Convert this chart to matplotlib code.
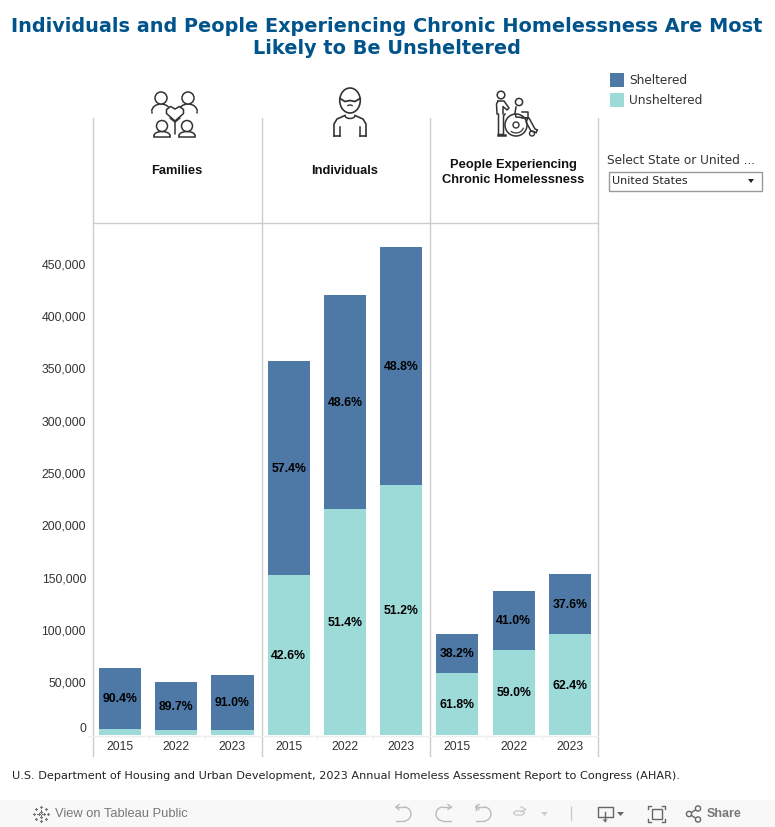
import matplotlib
matplotlib.use('Agg')
import matplotlib.pyplot as plt
from matplotlib.patches import Circle, Arc, Rectangle, Polygon, Ellipse, FancyBboxPatch
from matplotlib.transforms import ScaledTranslation

W, H = 775, 827

# values
years = ['2015', '2022', '2023', '2015', '2022', '2023', '2015', '2022', '2023']
sheltered = [58000, 45400, 52200, 204500, 205000, 227500, 37000, 56400, 57500]
unsheltered = [6000, 5200, 5200, 153000, 216000, 239000, 59500, 81300, 96500]
sheltered_labels = ['90.4%', '89.7%', '91.0%', '57.4%', '48.6%', '48.8%', '38.2%', '41.0%', '37.6%']
unsheltered_labels = ['', '', '', '42.6%', '51.4%', '51.2%', '61.8%', '59.0%', '62.4%']
yticks = [0, 50000, 100000, 150000, 200000, 250000, 300000, 350000, 400000, 450000]
groups = ['Families', 'Individuals', 'People Experiencing\nChronic Homelessness']

BLUE = '#4e79a7'
TEAL = '#9ddbd9'
LINE = '#cccccc'
ICON = '#333333'

plt.rcParams['font.family'] = ['Liberation Sans', 'DejaVu Sans']

fig = plt.figure(figsize=(W / 100, H / 100), dpi=100)

# main bars
ax = fig.add_axes([93 / W, 1 - 735 / H, 505 / W, 512 / H])
x = list(range(len(years)))
ax.bar(x, unsheltered, width=0.75, color=TEAL)
ax.bar(x, sheltered, width=0.75, bottom=unsheltered, color=BLUE)
# labels sit about a pixel under the exact middle of the segment
down = ax.transData + ScaledTranslation(0, -1 / 100, fig.dpi_scale_trans)
for i in x:
    ax.text(i, unsheltered[i] + sheltered[i] / 2, sheltered_labels[i], ha='center', va='center',
            fontsize=8.8, fontweight='bold', color='black', transform=down)
    if unsheltered_labels[i]:
        ax.text(i, unsheltered[i] / 2, unsheltered_labels[i], ha='center', va='center',
                fontsize=8.8, fontweight='bold', color='black', transform=down)
ax.set_xlim(-0.48, 8.5)
ax.set_ylim(0, 489400)
ax.set_xticks(x)
ax.set_xticklabels(years)
ax.set_yticks(yticks)
ax.set_yticklabels([f'{v:,}' for v in yticks])
ax.tick_params(axis='both', length=0, labelsize=8.8, labelcolor='#333333')
ax.tick_params(axis='x', pad=4.3)
ax.tick_params(axis='y', pad=5)
ax.get_yticklabels()[0].set_verticalalignment('bottom')
for lab in ax.get_yticklabels()[1:]:
    lab.set_transform(lab.get_transform() + ScaledTranslation(0, 0.5 / 100, fig.dpi_scale_trans))
for s in ax.spines.values():
    s.set_visible(False)

# everything around the chart, in pixel coordinates
ov = fig.add_axes([0, 0, 1, 1])
ov.set_xlim(0, W)
ov.set_ylim(H, 0)
ov.axis('off')
ov.patch.set_alpha(0)


def icon_line(xs, ys, color=ICON, lw=1.1):
    ov.plot(xs, ys, color=color, lw=lw, solid_capstyle='round')


def person(cx, head_y, r, sw, base):
    # round head and shoulders
    ov.add_patch(Arc((cx, base - 1), sw * 2, (base - 1 - head_y - r) * 2, theta1=180, theta2=360, ec=ICON, lw=1.1))
    ov.add_patch(Circle((cx, head_y), r, fc='white', ec=ICON, lw=1.1, zorder=3))
    icon_line([cx - sw, cx - sw], [base - 1, base])
    icon_line([cx + sw, cx + sw], [base - 1, base])


# separators
for px in [93, 262, 430, 598]:
    ov.plot([px, px], [118, 756], color=LINE, lw=1)
ov.plot([93, 598], [223, 223], color=LINE, lw=1)
ov.plot([88, 598], [735.5, 735.5], color='#eeeeee', lw=1)
for px in [148.5, 204.5, 317, 373, 485.5, 541.5]:
    ov.plot([px, px], [735.5, 739], color='#eeeeee', lw=1)

# titles
ov.text(386.5, 26, 'Individuals and People Experiencing Chronic Homelessness Are Most', ha='center', va='center',
        fontsize=13.83, fontweight='bold', family='DejaVu Sans', color='#00548b')
ov.text(387, 49, 'Likely to Be Unsheltered', ha='center', va='center',
        fontsize=13.83, fontweight='bold', family='DejaVu Sans', color='#00548b')

# panel headers
ov.text(176.5, 171.5, groups[0], ha='center', va='center', fontsize=9.3, fontweight='bold', color='#111111')
ov.text(345, 171.5, groups[1], ha='center', va='center', fontsize=9.3, fontweight='bold', color='#111111')
ov.text(513.5, 172.5, groups[2], ha='center', va='center', fontsize=9.3, fontweight='bold', color='#111111',
        linespacing=1.25)

# families icon
person(161, 98, 6, 9.3, 112.5)
person(188, 98, 6, 9.3, 112.5)
person(162, 126, 5.5, 8.2, 137)
person(187, 126, 5.5, 8.2, 137)
icon_line([153.8, 170.2], [137, 137])
icon_line([178.8, 195.2], [137, 137])
ov.add_patch(Polygon([(175, 121), (166.5, 113.5), (166.5, 109.5), (170.5, 106.5), (175, 109), (179.5, 106.5),
                      (183.5, 109.5), (183.5, 113.5)], closed=True, fc='white', ec=ICON, lw=1.1, zorder=4))
icon_line([175, 175], [121, 134])
icon_line([170, 175, 180], [118, 122, 118])

# individual icon
ov.add_patch(Ellipse((350, 100.5), 20.5, 25, fc='white', ec=ICON, lw=1.2))
ov.plot([340, 345, 350, 355, 360], [98.5, 101.5, 100.5, 101.5, 98.5], color=ICON, lw=1.3)
ov.add_patch(Arc((350, 107), 6, 4, theta1=20, theta2=160, angle=180, ec=ICON, lw=1))
ov.plot([334, 334, 337, 345], [136, 124, 119, 115.5], color=ICON, lw=1.2)
ov.plot([366, 366, 363, 355], [136, 124, 119, 115.5], color=ICON, lw=1.2)
ov.add_patch(Arc((350, 115.5), 10, 6, theta1=0, theta2=180, ec=ICON, lw=1.1))
ov.plot([334, 340], [136, 136], color=ICON, lw=1.2)
ov.plot([360, 366], [136, 136], color=ICON, lw=1.2)
ov.plot([340, 340], [127, 136], color=ICON, lw=1.1)
ov.plot([360, 360], [127, 136], color=ICON, lw=1.1)

# wheelchair icon
ov.add_patch(Circle((501, 95), 3.8, fc='white', ec=ICON, lw=1.1))
ov.plot([498, 496.5, 497, 498.5, 498.5, 503.5, 503.5, 505], [101, 104, 114, 114, 134.5, 134.5, 116, 114], color=ICON, lw=1.1)
ov.plot([498, 504, 509, 507, 503, 503], [101, 101, 108, 110, 106.5, 114], color=ICON, lw=1.1)
ov.plot([498, 505], [135, 135], color=ICON, lw=1.8)
ov.add_patch(Circle((516, 125), 11, fc='white', ec=ICON, lw=1.1))
ov.add_patch(Arc((516, 125), 16, 16, theta1=20, theta2=130, ec=ICON, lw=0.9))
ov.add_patch(Circle((516, 125), 3, fc='white', ec=ICON, lw=1))
ov.add_patch(Circle((519, 102), 3.6, fc='white', ec=ICON, lw=1.1))
ov.plot([516, 515, 516, 528, 528, 522], [107, 113, 117, 118, 112, 112], color=ICON, lw=1.1)
ov.plot([522, 529, 535, 537.5, 536], [118, 118, 129, 130, 132.5], color=ICON, lw=1.1)
ov.plot([528, 526, 531, 536], [118, 122, 131, 132.5], color=ICON, lw=1.1)
ov.add_patch(Circle((532, 133.5), 2.5, fc='white', ec=ICON, lw=1))

# legend
ov.add_patch(Rectangle((610, 73), 14, 14, fc=BLUE, ec='none'))
ov.add_patch(Rectangle((610, 93), 14, 14, fc=TEAL, ec='none'))
ov.text(629, 80, 'Sheltered', va='center', fontsize=8.7, family='DejaVu Sans', color='#333333')
ov.text(629, 100, 'Unsheltered', va='center', fontsize=8.7, family='DejaVu Sans', color='#333333')

# filter box
ov.text(607, 161, 'Select State or United ...', va='center', fontsize=8.7, family='DejaVu Sans', color='#333333')
ov.add_patch(Rectangle((608.5, 171.5), 153, 19, fc='white', ec='#999999', lw=1))
ov.text(612, 180.5, 'United States', va='center', fontsize=8, family='DejaVu Sans', color='#222222')
ov.add_patch(Polygon([(748, 179), (754, 179), (751, 183)], closed=True, fc='#222222', ec='none'))

# source
ov.text(12, 776, 'U.S. Department of Housing and Urban Development, 2023 Annual Homeless Assessment Report to Congress (AHAR).',
        va='center', fontsize=8.15, family='DejaVu Sans', color='#222222')

# tableau toolbar
ov.add_patch(Rectangle((0, 800), W, 27, fc='#f8f8f8', ec='none'))
ov.text(55, 814, 'View on Tableau Public', va='center', fontsize=9.3, family='Liberation Sans', color='#777777')
ov.text(707, 814, 'Share', va='center', fontsize=9, family='Liberation Sans', color='#777777', fontweight='bold')
for dx, dy in [(-7, 0), (7, 0), (0, -7), (0, 7), (-5, -5), (5, -5), (-5, 5), (5, 5), (-2.5, 0), (2.5, 0), (0, -2.5), (0, 2.5)]:
    ov.plot([41 + dx - 1.2, 41 + dx + 1.2], [814 + dy, 814 + dy], color='#777777', lw=0.8)
    ov.plot([41 + dx, 41 + dx], [814 + dy - 1.2, 814 + dy + 1.2], color='#777777', lw=0.8)
# undo / redo
for cx, flip in [(404, 1), (443, -1), (484, 1)]:
    ov.add_patch(Arc((cx, 814), 14, 14, theta1=-90, theta2=90, angle=0 if flip > 0 else 180, ec='#bbbbbb', lw=1))
    ov.plot([cx - flip * 8, cx], [807, 807], color='#bbbbbb', lw=1)
    ov.plot([cx - flip * 8, cx], [821, 821], color='#bbbbbb', lw=1)
    ov.plot([cx - flip * 8, cx - flip * 5], [807, 804.5], color='#bbbbbb', lw=1)
    ov.plot([cx - flip * 8, cx - flip * 5], [807, 809.5], color='#bbbbbb', lw=1)
ov.plot([475.5, 475.5], [805, 810], color='#bbbbbb', lw=1)
ov.add_patch(FancyBboxPatch((514, 811), 10, 4, boxstyle='round,pad=0,rounding_size=2.5', fc='none', ec='#cccccc', lw=1,
                            mutation_aspect=1))
ov.plot([521, 526, 521], [807, 809.5, 812], color='#cccccc', lw=1)
ov.add_patch(Polygon([(541, 812), (548, 812), (544.5, 816)], closed=True, fc='#cccccc', ec='none'))
ov.plot([571, 571], [807, 820], color='#cccccc', lw=1)
# download
ov.plot([604, 597.5, 597.5, 612.5, 612.5, 606], [817, 817, 807, 807, 817, 817], color='#666666', lw=1)
ov.plot([605, 605], [812, 821], color='#666666', lw=1)
ov.add_patch(Polygon([(602.5, 819.5), (607.5, 819.5), (605, 822)], closed=True, fc='#666666', ec='none'))
ov.add_patch(Polygon([(617, 812), (624, 812), (620.5, 816)], closed=True, fc='#666666', ec='none'))
# full screen
ov.add_patch(Rectangle((651.5, 809), 10, 10, fc='none', ec='#666666', lw=1))
for cx, cy in [(648, 806), (665, 806), (648, 822), (665, 822)]:
    sx = 3 if cx < 656 else -3
    sy = 3 if cy < 814 else -3
    ov.plot([cx + sx, cx, cx], [cy, cy, cy + sy], color='#666666', lw=1)
# share
ov.plot([698, 689, 698], [808.5, 814, 819.5], color='#666666', lw=1)
for cx, cy in [(689, 814), (698, 808.5), (698, 819.5)]:
    ov.add_patch(Circle((cx, cy), 2.6, fc='#f8f8f8', ec='#666666', lw=1, zorder=4))

fig.savefig('out.png', dpi=100)
